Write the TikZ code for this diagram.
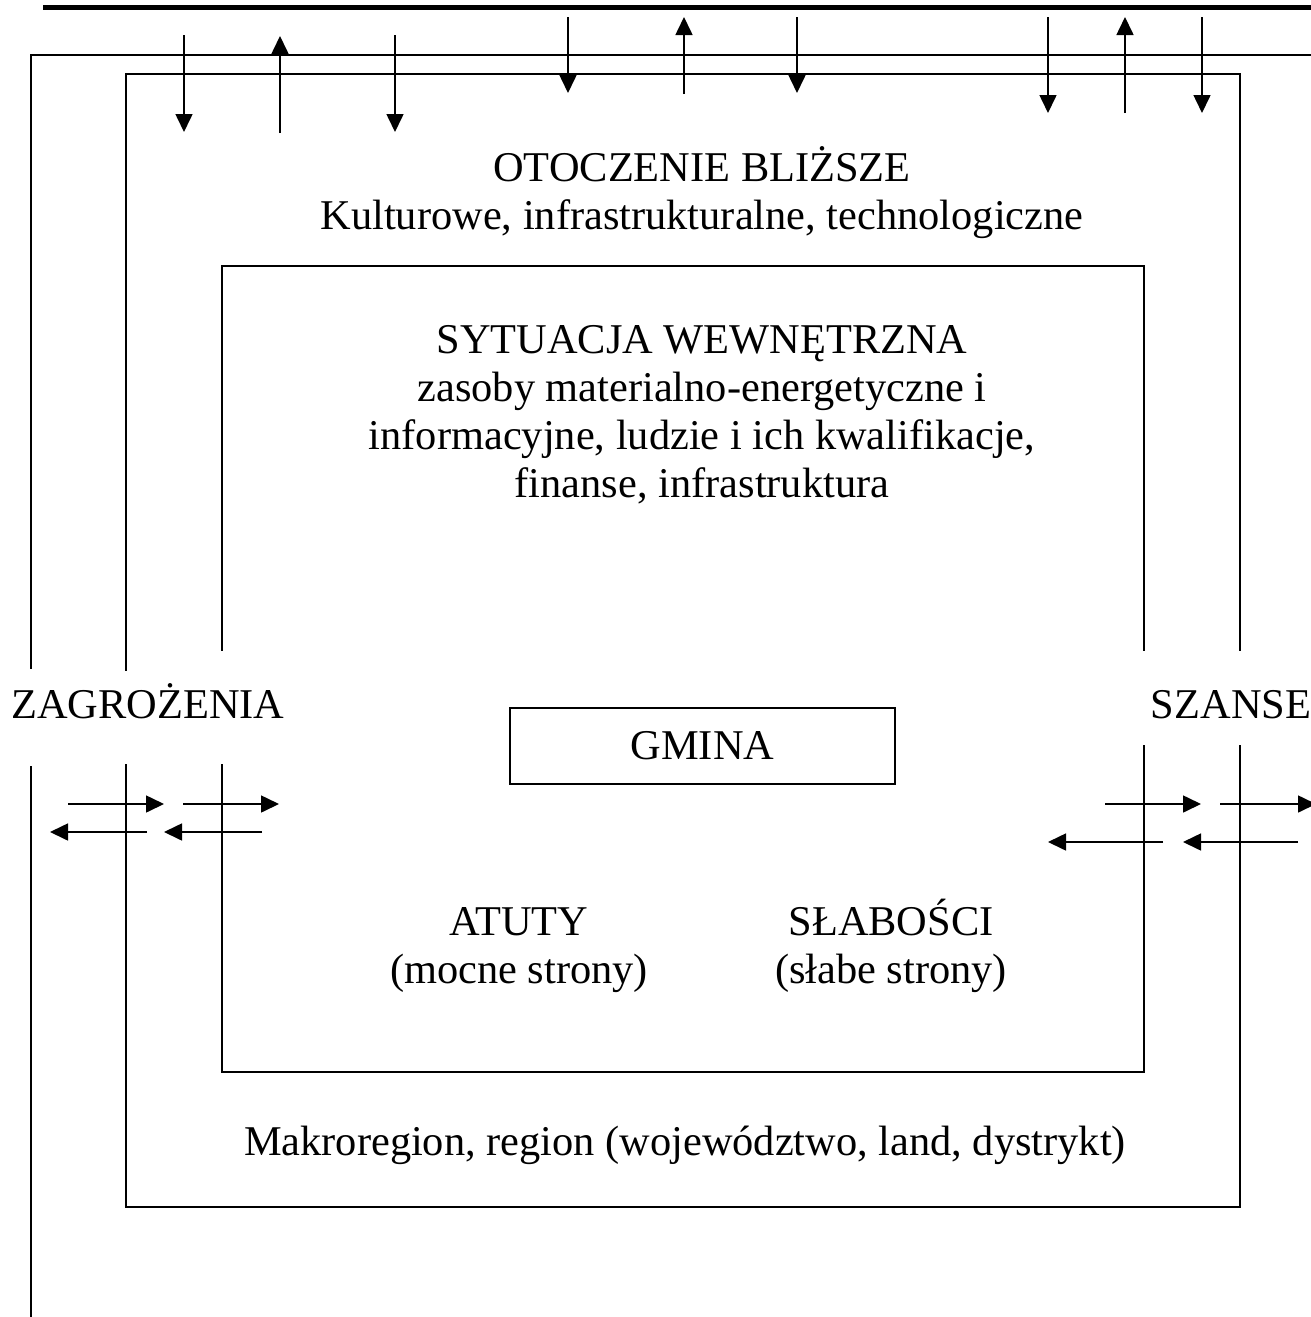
\documentclass[tikz,border=0pt]{standalone}
\usepackage{fontspec}
\setmainfont{Liberation Serif}
\usepackage{tikz}
\usetikzlibrary{arrows.meta, positioning}

\tikzset{
    frame/.style={line width=1.6pt, line cap=rect},
    arr/.style={line width=1.6pt, -{Triangle[length=18pt, width=17pt]}},
    txt/.style={anchor=base, align=center, inner sep=0pt, font=\fontsize{42.4}{48}\selectfont},
    gminabox/.style={draw, line width=1.6pt, minimum width=385pt, minimum height=76pt, inner sep=0pt, font=\fontsize{42.4}{48}\selectfont}
}

\begin{document}
\begin{tikzpicture}[x=1pt, y=-1pt]
            \useasboundingbox (0,0) rectangle (1311,1317);
            \clip (0,0) rectangle (1311,1317);

            % heading rule
            \draw[line width=4.5pt] (43,7.5) -- (1330,7.5);

            % outer frame
            \draw[frame] (31,668) |- (1330,55);
            \draw[frame] (31,767) -- (31,1330);
            % makroregion frame
            \draw[frame] (126,670) |- (1240,74) -- (1240,650);
            \draw[frame] (126,765) |- (1240,1207) -- (1240,746);
            % inner frame
            \draw[frame] (222,650) |- (1144,266) -- (1144,650);
            \draw[frame] (222,765) |- (1144,1072) -- (1144,746);

            % vertical arrows
            \foreach \x/\t/\b [count=\i] in {184/35/132, 395/35/132, 568/17/93, 797/17/93, 1048/17/113, 1202/17/113} {
                \coordinate (dn\i s) at (\x,\t);
                \coordinate (dn\i e) at (\x,\b);
                \draw[arr] (dn\i s) -- (dn\i e);
            }
            \foreach \x/\t/\b [count=\i] in {280/133/36, 684/94/17, 1125/113/17} {
                \coordinate (up\i s) at (\x,\t);
                \coordinate (up\i e) at (\x,\b);
                \draw[arr] (up\i s) -- (up\i e);
            }

            % horizontal arrows
            \foreach \l/\r [count=\i] in {68/164, 183/279, 1105/1201, 1220/1316} {
                \coordinate (rt\i s) at (\l,804);
                \coordinate (rt\i e) at (\r,804);
                \draw[arr] (rt\i s) -- (rt\i e);
            }
            \foreach \r/\l/\y [count=\i] in {147/50/832, 262/164/832, 1163/1048/842, 1298/1183/842} {
                \coordinate (lt\i s) at (\r,\y);
                \coordinate (lt\i e) at (\l,\y);
                \draw[arr] (lt\i s) -- (lt\i e);
            }

            % texts (base = baseline of the last line)
            \node[txt] (otoczenie) at (702,229) {OTOCZENIE BLIŻSZE\\Kulturowe, infrastrukturalne, technologiczne};
            \node[txt] (sytuacja) at (702,497) {SYTUACJA WEWNĘTRZNA\\zasoby materialno-energetyczne i\\informacyjne, ludzie i ich kwalifikacje,\\finanse, infrastruktura};
            \node[txt] (zagrozenia) at (148,718) {ZAGROŻENIA};
            \node[txt] (szanse) at (1231,718) {SZANSE};
            \node[gminabox] (gmina) at (702.5,746) {GMINA};
            \node[txt] (atuty) at (519,983) {ATUTY\\(mocne strony)};
            \node[txt] (slabosci) at (891,983) {SŁABOŚCI\\(słabe strony)};
            \node[txt] (makro) at (685,1155) {Makroregion, region (województwo, land, dystrykt)};
        \end{tikzpicture}
\end{document}
